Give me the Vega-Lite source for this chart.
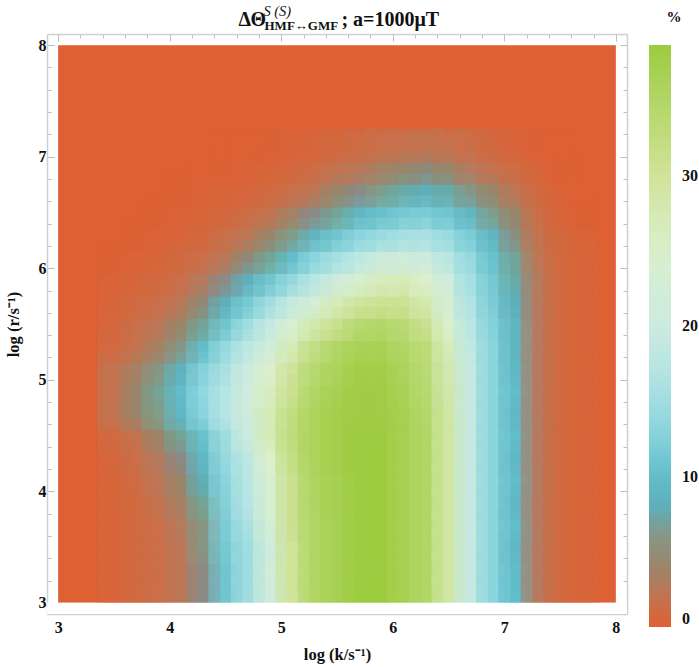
{"$schema":"https://vega.github.io/schema/vega-lite/v6.json","width":580,"height":580,"autosize":"none","padding":{"left":47,"top":34,"right":72,"bottom":53},"background":"white",
"config":{"view":{"stroke":null},"axis":{"zindex":1,"labelFont":"Liberation Serif","labelFontWeight":"bold","labelFontSize":16,"labelColor":"#111","titleFont":"Liberation Serif","titleFontWeight":"bold","titleFontSize":16.5,"titleColor":"#111","domainColor":"#cfcfcf","domainWidth":1.5,"tickColor":"#bdbdbd","tickWidth":1,"grid":false}},
"datasets":{"cells":[
{"k":3.5,"r":3.1,"v":0.5},{"k":3.7,"r":3.1,"v":1},{"k":3.9,"r":3.1,"v":1.5},{"k":4.1,"r":3.1,"v":2.5},{"k":4.3,"r":3.1,"v":5},{"k":4.5,"r":3.1,"v":11},{"k":4.7,"r":3.1,"v":15},{"k":4.9,"r":3.1,"v":21},{"k":5.1,"r":3.1,"v":30},{"k":5.3,"r":3.1,"v":35},{"k":5.5,"r":3.1,"v":37},{"k":5.7,"r":3.1,"v":38.5},{"k":5.9,"r":3.1,"v":38.5},{"k":6.1,"r":3.1,"v":37},{"k":6.3,"r":3.1,"v":35},{"k":6.5,"r":3.1,"v":29},{"k":6.7,"r":3.1,"v":19},{"k":6.9,"r":3.1,"v":13},{"k":7.1,"r":3.1,"v":10},{"k":7.3,"r":3.1,"v":3},{"k":7.5,"r":3.1,"v":1},{"k":7.7,"r":3.1,"v":0.5},
{"k":3.5,"r":3.3,"v":0.5},{"k":3.7,"r":3.3,"v":1},{"k":3.9,"r":3.3,"v":1.5},{"k":4.1,"r":3.3,"v":2.5},{"k":4.3,"r":3.3,"v":5},{"k":4.5,"r":3.3,"v":11},{"k":4.7,"r":3.3,"v":15},{"k":4.9,"r":3.3,"v":22},{"k":5.1,"r":3.3,"v":30},{"k":5.3,"r":3.3,"v":35},{"k":5.5,"r":3.3,"v":37},{"k":5.7,"r":3.3,"v":38.5},{"k":5.9,"r":3.3,"v":38.5},{"k":6.1,"r":3.3,"v":37},{"k":6.3,"r":3.3,"v":35},{"k":6.5,"r":3.3,"v":29},{"k":6.7,"r":3.3,"v":19},{"k":6.9,"r":3.3,"v":13},{"k":7.1,"r":3.3,"v":10},{"k":7.3,"r":3.3,"v":3},{"k":7.5,"r":3.3,"v":1},{"k":7.7,"r":3.3,"v":0.5},
{"k":3.5,"r":3.5,"v":0.5},{"k":3.7,"r":3.5,"v":1},{"k":3.9,"r":3.5,"v":1.5},{"k":4.1,"r":3.5,"v":2.5},{"k":4.3,"r":3.5,"v":6},{"k":4.5,"r":3.5,"v":11.5},{"k":4.7,"r":3.5,"v":15},{"k":4.9,"r":3.5,"v":21},{"k":5.1,"r":3.5,"v":30},{"k":5.3,"r":3.5,"v":35},{"k":5.5,"r":3.5,"v":37},{"k":5.7,"r":3.5,"v":38.5},{"k":5.9,"r":3.5,"v":38.5},{"k":6.1,"r":3.5,"v":37},{"k":6.3,"r":3.5,"v":35},{"k":6.5,"r":3.5,"v":29},{"k":6.7,"r":3.5,"v":19},{"k":6.9,"r":3.5,"v":13},{"k":7.1,"r":3.5,"v":9.5},{"k":7.3,"r":3.5,"v":3},{"k":7.5,"r":3.5,"v":1},{"k":7.7,"r":3.5,"v":0.5},
{"k":3.5,"r":3.7,"v":0.5},{"k":3.7,"r":3.7,"v":1},{"k":3.9,"r":3.7,"v":1.5},{"k":4.1,"r":3.7,"v":3},{"k":4.3,"r":3.7,"v":6},{"k":4.5,"r":3.7,"v":12},{"k":4.7,"r":3.7,"v":16},{"k":4.9,"r":3.7,"v":23},{"k":5.1,"r":3.7,"v":31},{"k":5.3,"r":3.7,"v":35},{"k":5.5,"r":3.7,"v":37},{"k":5.7,"r":3.7,"v":38.5},{"k":5.9,"r":3.7,"v":38.5},{"k":6.1,"r":3.7,"v":37},{"k":6.3,"r":3.7,"v":35},{"k":6.5,"r":3.7,"v":29},{"k":6.7,"r":3.7,"v":19},{"k":6.9,"r":3.7,"v":13},{"k":7.1,"r":3.7,"v":10},{"k":7.3,"r":3.7,"v":3},{"k":7.5,"r":3.7,"v":1},{"k":7.7,"r":3.7,"v":0.5},
{"k":3.5,"r":3.9,"v":0.5},{"k":3.7,"r":3.9,"v":1},{"k":3.9,"r":3.9,"v":2},{"k":4.1,"r":3.9,"v":3.5},{"k":4.3,"r":3.9,"v":7},{"k":4.5,"r":3.9,"v":12.5},{"k":4.7,"r":3.9,"v":17},{"k":4.9,"r":3.9,"v":24},{"k":5.1,"r":3.9,"v":31},{"k":5.3,"r":3.9,"v":35.5},{"k":5.5,"r":3.9,"v":37},{"k":5.7,"r":3.9,"v":38.5},{"k":5.9,"r":3.9,"v":38.5},{"k":6.1,"r":3.9,"v":37},{"k":6.3,"r":3.9,"v":35},{"k":6.5,"r":3.9,"v":29},{"k":6.7,"r":3.9,"v":19},{"k":6.9,"r":3.9,"v":13},{"k":7.1,"r":3.9,"v":9.5},{"k":7.3,"r":3.9,"v":3},{"k":7.5,"r":3.9,"v":1},{"k":7.7,"r":3.9,"v":0.5},
{"k":3.5,"r":4.1,"v":0.5},{"k":3.7,"r":4.1,"v":1.2},{"k":3.9,"r":4.1,"v":2.5},{"k":4.1,"r":4.1,"v":4},{"k":4.3,"r":4.1,"v":8},{"k":4.5,"r":4.1,"v":13},{"k":4.7,"r":4.1,"v":17.5},{"k":4.9,"r":4.1,"v":24},{"k":5.1,"r":4.1,"v":31},{"k":5.3,"r":4.1,"v":35.5},{"k":5.5,"r":4.1,"v":37},{"k":5.7,"r":4.1,"v":38.5},{"k":5.9,"r":4.1,"v":38.5},{"k":6.1,"r":4.1,"v":37},{"k":6.3,"r":4.1,"v":35},{"k":6.5,"r":4.1,"v":29},{"k":6.7,"r":4.1,"v":19},{"k":6.9,"r":4.1,"v":13},{"k":7.1,"r":4.1,"v":10},{"k":7.3,"r":4.1,"v":3},{"k":7.5,"r":4.1,"v":1},{"k":7.7,"r":4.1,"v":0.5},
{"k":3.5,"r":4.3,"v":0.7},{"k":3.7,"r":4.3,"v":1.5},{"k":3.9,"r":4.3,"v":3},{"k":4.1,"r":4.3,"v":5},{"k":4.3,"r":4.3,"v":9.5},{"k":4.5,"r":4.3,"v":14},{"k":4.7,"r":4.3,"v":18},{"k":4.9,"r":4.3,"v":25},{"k":5.1,"r":4.3,"v":32},{"k":5.3,"r":4.3,"v":36},{"k":5.5,"r":4.3,"v":37.5},{"k":5.7,"r":4.3,"v":38.5},{"k":5.9,"r":4.3,"v":38.5},{"k":6.1,"r":4.3,"v":37},{"k":6.3,"r":4.3,"v":35},{"k":6.5,"r":4.3,"v":29},{"k":6.7,"r":4.3,"v":19},{"k":6.9,"r":4.3,"v":13},{"k":7.1,"r":4.3,"v":9.5},{"k":7.3,"r":4.3,"v":3},{"k":7.5,"r":4.3,"v":1},{"k":7.7,"r":4.3,"v":0.5},
{"k":3.5,"r":4.5,"v":1},{"k":3.7,"r":4.5,"v":2},{"k":3.9,"r":4.5,"v":4},{"k":4.1,"r":4.5,"v":7},{"k":4.3,"r":4.5,"v":10.5},{"k":4.5,"r":4.5,"v":15},{"k":4.7,"r":4.5,"v":20},{"k":4.9,"r":4.5,"v":27},{"k":5.1,"r":4.5,"v":33},{"k":5.3,"r":4.5,"v":36},{"k":5.5,"r":4.5,"v":37.5},{"k":5.7,"r":4.5,"v":38.5},{"k":5.9,"r":4.5,"v":38.5},{"k":6.1,"r":4.5,"v":37},{"k":6.3,"r":4.5,"v":35},{"k":6.5,"r":4.5,"v":29},{"k":6.7,"r":4.5,"v":19},{"k":6.9,"r":4.5,"v":13},{"k":7.1,"r":4.5,"v":10},{"k":7.3,"r":4.5,"v":3},{"k":7.5,"r":4.5,"v":1},{"k":7.7,"r":4.5,"v":0.5},
{"k":3.5,"r":4.7,"v":2},{"k":3.7,"r":4.7,"v":4},{"k":3.9,"r":4.7,"v":6.5},{"k":4.1,"r":4.7,"v":9.5},{"k":4.3,"r":4.7,"v":13},{"k":4.5,"r":4.7,"v":17},{"k":4.7,"r":4.7,"v":21.5},{"k":4.9,"r":4.7,"v":27},{"k":5.1,"r":4.7,"v":32.5},{"k":5.3,"r":4.7,"v":36},{"k":5.5,"r":4.7,"v":37.5},{"k":5.7,"r":4.7,"v":38},{"k":5.9,"r":4.7,"v":38},{"k":6.1,"r":4.7,"v":37},{"k":6.3,"r":4.7,"v":34.5},{"k":6.5,"r":4.7,"v":29},{"k":6.7,"r":4.7,"v":19},{"k":6.9,"r":4.7,"v":13},{"k":7.1,"r":4.7,"v":9.5},{"k":7.3,"r":4.7,"v":3},{"k":7.5,"r":4.7,"v":1},{"k":7.7,"r":4.7,"v":0.5},
{"k":3.5,"r":4.9,"v":2},{"k":3.7,"r":4.9,"v":4},{"k":3.9,"r":4.9,"v":7},{"k":4.1,"r":4.9,"v":10},{"k":4.3,"r":4.9,"v":13.5},{"k":4.5,"r":4.9,"v":17},{"k":4.7,"r":4.9,"v":21},{"k":4.9,"r":4.9,"v":26},{"k":5.1,"r":4.9,"v":31},{"k":5.3,"r":4.9,"v":35},{"k":5.5,"r":4.9,"v":37},{"k":5.7,"r":4.9,"v":38},{"k":5.9,"r":4.9,"v":38},{"k":6.1,"r":4.9,"v":36.5},{"k":6.3,"r":4.9,"v":34},{"k":6.5,"r":4.9,"v":28.5},{"k":6.7,"r":4.9,"v":19},{"k":6.9,"r":4.9,"v":13},{"k":7.1,"r":4.9,"v":10},{"k":7.3,"r":4.9,"v":3},{"k":7.5,"r":4.9,"v":1},{"k":7.7,"r":4.9,"v":0.5},
{"k":3.5,"r":5.1,"v":2},{"k":3.7,"r":5.1,"v":3.5},{"k":3.9,"r":5.1,"v":6},{"k":4.1,"r":5.1,"v":8.5},{"k":4.3,"r":5.1,"v":12.5},{"k":4.5,"r":5.1,"v":16},{"k":4.7,"r":5.1,"v":20},{"k":4.9,"r":5.1,"v":25},{"k":5.1,"r":5.1,"v":30},{"k":5.3,"r":5.1,"v":34},{"k":5.5,"r":5.1,"v":36},{"k":5.7,"r":5.1,"v":37.5},{"k":5.9,"r":5.1,"v":37.5},{"k":6.1,"r":5.1,"v":36},{"k":6.3,"r":5.1,"v":33.5},{"k":6.5,"r":5.1,"v":28},{"k":6.7,"r":5.1,"v":19},{"k":6.9,"r":5.1,"v":13},{"k":7.1,"r":5.1,"v":9.5},{"k":7.3,"r":5.1,"v":3},{"k":7.5,"r":5.1,"v":1},{"k":7.7,"r":5.1,"v":0.5},
{"k":3.5,"r":5.3,"v":1},{"k":3.7,"r":5.3,"v":2},{"k":3.9,"r":5.3,"v":3.5},{"k":4.1,"r":5.3,"v":6},{"k":4.3,"r":5.3,"v":10},{"k":4.5,"r":5.3,"v":14},{"k":4.7,"r":5.3,"v":18},{"k":4.9,"r":5.3,"v":22},{"k":5.1,"r":5.3,"v":27},{"k":5.3,"r":5.3,"v":32},{"k":5.5,"r":5.3,"v":35},{"k":5.7,"r":5.3,"v":36.5},{"k":5.9,"r":5.3,"v":36.5},{"k":6.1,"r":5.3,"v":35},{"k":6.3,"r":5.3,"v":33},{"k":6.5,"r":5.3,"v":27},{"k":6.7,"r":5.3,"v":18.5},{"k":6.9,"r":5.3,"v":13},{"k":7.1,"r":5.3,"v":9},{"k":7.3,"r":5.3,"v":3},{"k":7.5,"r":5.3,"v":1},{"k":7.7,"r":5.3,"v":0.5},
{"k":3.5,"r":5.5,"v":0.7},{"k":3.7,"r":5.5,"v":1.5},{"k":3.9,"r":5.5,"v":2.5},{"k":4.1,"r":5.5,"v":4},{"k":4.3,"r":5.5,"v":7},{"k":4.5,"r":5.5,"v":11},{"k":4.7,"r":5.5,"v":15},{"k":4.9,"r":5.5,"v":19},{"k":5.1,"r":5.5,"v":24},{"k":5.3,"r":5.5,"v":28},{"k":5.5,"r":5.5,"v":31},{"k":5.7,"r":5.5,"v":34},{"k":5.9,"r":5.5,"v":34.5},{"k":6.1,"r":5.5,"v":33.5},{"k":6.3,"r":5.5,"v":31},{"k":6.5,"r":5.5,"v":25},{"k":6.7,"r":5.5,"v":17.5},{"k":6.9,"r":5.5,"v":12.5},{"k":7.1,"r":5.5,"v":9},{"k":7.3,"r":5.5,"v":3},{"k":7.5,"r":5.5,"v":1},{"k":7.7,"r":5.5,"v":0.5},
{"k":3.5,"r":5.7,"v":0.5},{"k":3.7,"r":5.7,"v":1},{"k":3.9,"r":5.7,"v":1.5},{"k":4.1,"r":5.7,"v":2.5},{"k":4.3,"r":5.7,"v":4.5},{"k":4.5,"r":5.7,"v":8},{"k":4.7,"r":5.7,"v":11.5},{"k":4.9,"r":5.7,"v":15},{"k":5.1,"r":5.7,"v":19},{"k":5.3,"r":5.7,"v":23},{"k":5.5,"r":5.7,"v":27},{"k":5.7,"r":5.7,"v":29.5},{"k":5.9,"r":5.7,"v":30.5},{"k":6.1,"r":5.7,"v":30.5},{"k":6.3,"r":5.7,"v":28},{"k":6.5,"r":5.7,"v":23},{"k":6.7,"r":5.7,"v":16.5},{"k":6.9,"r":5.7,"v":12},{"k":7.1,"r":5.7,"v":8},{"k":7.3,"r":5.7,"v":3},{"k":7.5,"r":5.7,"v":1},{"k":7.7,"r":5.7,"v":0.5},
{"k":3.5,"r":5.9,"v":0.3},{"k":3.7,"r":5.9,"v":0.5},{"k":3.9,"r":5.9,"v":1},{"k":4.1,"r":5.9,"v":1.5},{"k":4.3,"r":5.9,"v":3},{"k":4.5,"r":5.9,"v":5},{"k":4.7,"r":5.9,"v":8},{"k":4.9,"r":5.9,"v":11},{"k":5.1,"r":5.9,"v":14},{"k":5.3,"r":5.9,"v":17.5},{"k":5.5,"r":5.9,"v":21},{"k":5.7,"r":5.9,"v":24},{"k":5.9,"r":5.9,"v":26.5},{"k":6.1,"r":5.9,"v":27},{"k":6.3,"r":5.9,"v":25},{"k":6.5,"r":5.9,"v":21},{"k":6.7,"r":5.9,"v":15.5},{"k":6.9,"r":5.9,"v":11.5},{"k":7.1,"r":5.9,"v":7.5},{"k":7.3,"r":5.9,"v":3},{"k":7.5,"r":5.9,"v":1},{"k":7.7,"r":5.9,"v":0.5},
{"k":3.5,"r":6.1,"v":0.2},{"k":3.7,"r":6.1,"v":0.3},{"k":3.9,"r":6.1,"v":0.5},{"k":4.1,"r":6.1,"v":1},{"k":4.3,"r":6.1,"v":1.5},{"k":4.5,"r":6.1,"v":2.5},{"k":4.7,"r":6.1,"v":4.5},{"k":4.9,"r":6.1,"v":7},{"k":5.1,"r":6.1,"v":10},{"k":5.3,"r":6.1,"v":13},{"k":5.5,"r":6.1,"v":15.5},{"k":5.7,"r":6.1,"v":18},{"k":5.9,"r":6.1,"v":20},{"k":6.1,"r":6.1,"v":21},{"k":6.3,"r":6.1,"v":20.5},{"k":6.5,"r":6.1,"v":17.5},{"k":6.7,"r":6.1,"v":14},{"k":6.9,"r":6.1,"v":10.5},{"k":7.1,"r":6.1,"v":7},{"k":7.3,"r":6.1,"v":2.5},{"k":7.5,"r":6.1,"v":1},{"k":7.7,"r":6.1,"v":0.5},
{"k":3.7,"r":6.3,"v":0.2},{"k":3.9,"r":6.3,"v":0.3},{"k":4.1,"r":6.3,"v":0.5},{"k":4.3,"r":6.3,"v":0.8},{"k":4.5,"r":6.3,"v":1.5},{"k":4.7,"r":6.3,"v":2.5},{"k":4.9,"r":6.3,"v":4},{"k":5.1,"r":6.3,"v":6.5},{"k":5.3,"r":6.3,"v":9},{"k":5.5,"r":6.3,"v":11},{"k":5.7,"r":6.3,"v":13},{"k":5.9,"r":6.3,"v":14.5},{"k":6.1,"r":6.3,"v":15.5},{"k":6.3,"r":6.3,"v":16},{"k":6.5,"r":6.3,"v":14.5},{"k":6.7,"r":6.3,"v":12},{"k":6.9,"r":6.3,"v":9},{"k":7.1,"r":6.3,"v":5.5},{"k":7.3,"r":6.3,"v":2},{"k":7.5,"r":6.3,"v":0.8},{"k":7.7,"r":6.3,"v":0.3},
{"k":3.9,"r":6.5,"v":0.2},{"k":4.1,"r":6.5,"v":0.3},{"k":4.3,"r":6.5,"v":0.5},{"k":4.5,"r":6.5,"v":0.8},{"k":4.7,"r":6.5,"v":1.2},{"k":4.9,"r":6.5,"v":2},{"k":5.1,"r":6.5,"v":3.5},{"k":5.3,"r":6.5,"v":5},{"k":5.5,"r":6.5,"v":7},{"k":5.7,"r":6.5,"v":9},{"k":5.9,"r":6.5,"v":10.5},{"k":6.1,"r":6.5,"v":11.5},{"k":6.3,"r":6.5,"v":12},{"k":6.5,"r":6.5,"v":11},{"k":6.7,"r":6.5,"v":9},{"k":6.9,"r":6.5,"v":6.5},{"k":7.1,"r":6.5,"v":4},{"k":7.3,"r":6.5,"v":1.5},{"k":7.5,"r":6.5,"v":0.5},{"k":7.7,"r":6.5,"v":0.2},
{"k":4.1,"r":6.7,"v":0.2},{"k":4.3,"r":6.7,"v":0.3},{"k":4.5,"r":6.7,"v":0.4},{"k":4.7,"r":6.7,"v":0.6},{"k":4.9,"r":6.7,"v":1},{"k":5.1,"r":6.7,"v":1.5},{"k":5.3,"r":6.7,"v":2.5},{"k":5.5,"r":6.7,"v":4},{"k":5.7,"r":6.7,"v":5},{"k":5.9,"r":6.7,"v":6.5},{"k":6.1,"r":6.7,"v":7.5},{"k":6.3,"r":6.7,"v":8},{"k":6.5,"r":6.7,"v":7.5},{"k":6.7,"r":6.7,"v":6},{"k":6.9,"r":6.7,"v":4},{"k":7.1,"r":6.7,"v":2.5},{"k":7.3,"r":6.7,"v":1},{"k":7.5,"r":6.7,"v":0.3},{"k":7.7,"r":6.7,"v":0.1},
{"k":4.3,"r":6.9,"v":0.1},{"k":4.5,"r":6.9,"v":0.2},{"k":4.7,"r":6.9,"v":0.3},{"k":4.9,"r":6.9,"v":0.5},{"k":5.1,"r":6.9,"v":0.8},{"k":5.3,"r":6.9,"v":1.2},{"k":5.5,"r":6.9,"v":2},{"k":5.7,"r":6.9,"v":2.5},{"k":5.9,"r":6.9,"v":3.5},{"k":6.1,"r":6.9,"v":4},{"k":6.3,"r":6.9,"v":4.5},{"k":6.5,"r":6.9,"v":4},{"k":6.7,"r":6.9,"v":3},{"k":6.9,"r":6.9,"v":2},{"k":7.1,"r":6.9,"v":1.2},{"k":7.3,"r":6.9,"v":0.5},{"k":7.5,"r":6.9,"v":0.2},
{"k":4.5,"r":7.1,"v":0.1},{"k":4.7,"r":7.1,"v":0.1},{"k":4.9,"r":7.1,"v":0.2},{"k":5.1,"r":7.1,"v":0.4},{"k":5.3,"r":7.1,"v":0.6},{"k":5.5,"r":7.1,"v":0.8},{"k":5.7,"r":7.1,"v":1.2},{"k":5.9,"r":7.1,"v":1.5},{"k":6.1,"r":7.1,"v":1.8},{"k":6.3,"r":7.1,"v":2},{"k":6.5,"r":7.1,"v":1.8},{"k":6.7,"r":7.1,"v":1.4},{"k":6.9,"r":7.1,"v":0.9},{"k":7.1,"r":7.1,"v":0.5},{"k":7.3,"r":7.1,"v":0.2},{"k":7.5,"r":7.1,"v":0.1}
]},
"layer":[
{"data":{"values":[{"k":3,"k2":8,"r":3,"r2":8,"v":0}]},"mark":{"type":"rect"},"encoding":{
"x":{"field":"k","type":"quantitative","scale":{"domain":[2.9,8.1],"nice":false,"zero":false},"axis":{"title":"log (k/s⁻¹)","titlePadding":11,"orient":"bottom","values":[3,3.2,3.4,3.6,3.8,4,4.2,4.4,4.6,4.8,5,5.2,5.4,5.6,5.8,6,6.2,6.4,6.6,6.8,7,7.2,7.4,7.6,7.8,8],"labelExpr":"datum.value%1==0?format(datum.value,'d'):''","tickSize":{"condition":{"test":"datum.value%1==0","value":-7},"value":-4},"labelPadding":12,"labelFlush":false}},
"x2":{"field":"k2"},
"y":{"field":"r","type":"quantitative","scale":{"domain":[2.9,8.1],"nice":false,"zero":false},"axis":{"title":"log (r/s⁻¹)","titlePadding":17,"orient":"left","values":[3,3.2,3.4,3.6,3.8,4,4.2,4.4,4.6,4.8,5,5.2,5.4,5.6,5.8,6,6.2,6.4,6.6,6.8,7,7.2,7.4,7.6,7.8,8],"labelExpr":"datum.value%1==0?format(datum.value,'d'):''","tickSize":{"condition":{"test":"datum.value%1==0","value":-7},"value":-4},"labelPadding":8}},
"y2":{"field":"r2"},
"color":{"field":"v","type":"quantitative","scale":{"domain":[0,3,5,8,10,13,17,20,25,30,34,38.7],"range":["#de6033","#b57a5f","#8b8a84","#5fafba","#62bdc9","#8ad5de","#b5e5e5","#cdeadf","#dcefcc","#cfe39a","#b8d970","#9ccb3e"]},"legend":{"title":"%","orient":"none","legendX":602,"legendY":-24,"values":[0,10,20,30],"gradientLength":582,"gradientThickness":22,"titleFont":"Liberation Serif","titleFontSize":15,"titleFontWeight":"bold","titleColor":"#111","titlePadding":20,"labelFont":"Liberation Serif","labelFontWeight":"bold","labelFontSize":16,"labelColor":"#111","labelOffset":11,"titleAnchor":"middle","tickCount":4}}}},
{"data":{"name":"cells"},"mark":{"type":"rect","width":22.6,"height":22.6},"encoding":{"x":{"field":"k","type":"quantitative","axis":null},"y":{"field":"r","type":"quantitative","axis":null},"color":{"field":"v","type":"quantitative"}}},
{"data":{"name":"cells"},"mark":{"type":"rect","width":34,"height":34,"fillOpacity":0.45},"encoding":{"x":{"field":"k","type":"quantitative","axis":null},"y":{"field":"r","type":"quantitative","axis":null},"color":{"field":"v","type":"quantitative"}}},
{"data":{"name":"cells"},"mark":{"type":"rect","width":34,"height":34,"fillOpacity":0.45},"encoding":{"x":{"field":"k","type":"quantitative","axis":null},"y":{"field":"r","type":"quantitative","axis":null},"color":{"field":"v","type":"quantitative"},"order":[{"field":"r","sort":"descending"},{"field":"k","sort":"descending"}]}},
{"data":{"values":[{"k":2.9,"k2":8.1,"r":2.9,"r2":3}]},"mark":{"type":"rect","color":"white"},"encoding":{"x":{"field":"k","type":"quantitative","axis":null},"x2":{"field":"k2"},"y":{"field":"r","type":"quantitative","axis":null},"y2":{"field":"r2"}}},
{"data":{"values":[{"k":4.616,"r":8.17,"t":"ΔΘ"}]},"mark":{"type":"text","align":"left","baseline":"alphabetic","font":"Liberation Serif","fontWeight":"bold","fontSize":20,"color":"#111"},"encoding":{"x":{"field":"k","type":"quantitative","axis":{"orient":"top","title":null,"labels":false,"values":[3,3.2,3.4,3.6,3.8,4,4.2,4.4,4.6,4.8,5,5.2,5.4,5.6,5.8,6,6.2,6.4,6.6,6.8,7,7.2,7.4,7.6,7.8,8],"tickSize":{"condition":{"test":"datum.value%1==0","value":-7},"value":-4}}},"y":{"field":"r","type":"quantitative","axis":{"orient":"right","title":null,"labels":false,"values":[3,3.2,3.4,3.6,3.8,4,4.2,4.4,4.6,4.8,5,5.2,5.4,5.6,5.8,6,6.2,6.4,6.6,6.8,7,7.2,7.4,7.6,7.8,8],"tickSize":{"condition":{"test":"datum.value%1==0","value":-7},"value":-4}}},"text":{"field":"t"}}},
{"data":{"values":[{"k":4.84,"r":8.26,"t":"S (S)"}]},"mark":{"type":"text","align":"left","baseline":"alphabetic","font":"Liberation Serif","fontStyle":"italic","fontSize":14.5,"color":"#111"},"encoding":{"x":{"field":"k","type":"quantitative","axis":null},"y":{"field":"r","type":"quantitative","axis":null},"text":{"field":"t"}}},
{"data":{"values":[{"k":4.85,"r":8.135,"t":"HMF↔GMF"}]},"mark":{"type":"text","align":"left","baseline":"alphabetic","font":"Liberation Serif","fontWeight":"bold","fontSize":13,"color":"#111"},"encoding":{"x":{"field":"k","type":"quantitative","axis":null},"y":{"field":"r","type":"quantitative","axis":null},"text":{"field":"t"}}},
{"data":{"values":[{"k":5.54,"r":8.17,"t":"; a=1000μT"}]},"mark":{"type":"text","align":"left","baseline":"alphabetic","font":"Liberation Serif","fontWeight":"bold","fontSize":20,"color":"#111"},"encoding":{"x":{"field":"k","type":"quantitative","axis":null},"y":{"field":"r","type":"quantitative","axis":null},"text":{"field":"t"}}}
],
"resolve":{"axis":{"x":"independent","y":"independent"},"scale":{"x":"shared","y":"shared","color":"shared"}}}
